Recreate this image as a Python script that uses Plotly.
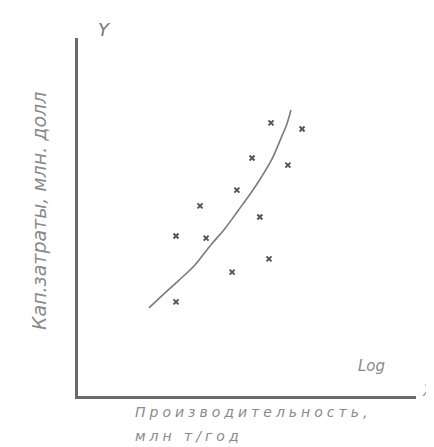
import plotly.graph_objects as go

# scattered observations (arbitrary units, 0-100 on both axes)
obs_x = [57.1, 66.3, 51.5, 62.1, 47.0, 36.1, 53.8, 29.0, 37.9, 56.5, 45.6, 29.0]
obs_y = [76.3, 74.6, 66.5, 64.5, 57.5, 53.1, 50.0, 44.7, 44.1, 38.3, 34.6, 26.3]

# hand-drawn trend curve
curve_x = [21.0, 25.5, 29.6, 34.6, 39.3, 43.5, 47.3, 51.0, 54.1, 57.3, 60.1, 61.8, 63.0]
curve_y = [24.6, 28.6, 32.1, 36.6, 42.2, 46.8, 51.7, 56.5, 60.9, 66.0, 72.1, 76.0, 79.9]

y_title = "Кап.затраты, млн. долл"
x_title_1 = "Производительность,"
x_title_2 = "млн т/год"

W, H = 434, 447
# plot region in pixels (left, right, top, bottom)
X0, X1, Y0, Y1 = 70, 408, 30, 388

def px(xp):
    return xp / W

def py(yp):
    return (H - yp) / H

ink = "#6a6a6a"
txt = "#8a8a8a"
fam = "DejaVu Sans"

fig = go.Figure()
fig.add_trace(go.Scatter(x=curve_x, y=curve_y, mode="lines",
                         line=dict(color="#7a7a7a", width=1.6, shape="spline"),
                         hoverinfo="skip"))
fig.add_trace(go.Scatter(x=obs_x, y=obs_y, mode="markers",
                         marker=dict(symbol="x-thin", size=5,
                                     line=dict(color="#555555", width=2)),
                         hoverinfo="skip"))

def ann(text, x, y, size, xanchor="left", angle=0, color=txt):
    fig.add_annotation(text=text, xref="paper", yref="paper", x=x, y=y,
                       xanchor=xanchor, yanchor="middle", showarrow=False,
                       textangle=angle,
                       font=dict(family=fam, size=size, color=color))

sp = '<i><span style="letter-spacing:4px">%s</span></i>'
ann("<i>Y</i>", px(96), py(22), 18, xanchor="center", color="#777777")
ann("<i>X</i>", px(420), py(383), 15, xanchor="center", color="#999999")
ann("<i>Log</i>", px(363), py(358), 15, xanchor="center", color="#888888")
ann(sp % x_title_1, px(125), py(404), 14)
ann(sp % x_title_2, px(125), py(428), 14)
ann("<i>" + y_title + "</i>", px(31), py(203), 19, xanchor="center", angle=-90)

fig.update_layout(
    width=W, height=H,
    margin=dict(l=0, r=0, t=0, b=0, autoexpand=False),
    paper_bgcolor="white", plot_bgcolor="white",
    showlegend=False,
    xaxis=dict(domain=[X0 / W, X1 / W], range=[0, 100], showgrid=False, zeroline=False,
               showticklabels=False, ticks="", showline=True, linecolor=ink,
               linewidth=2.5, fixedrange=True),
    yaxis=dict(domain=[(H - Y1) / H, (H - Y0) / H], range=[0, 100], showgrid=False,
               zeroline=False, showticklabels=False, ticks="", showline=True,
               linecolor=ink, linewidth=2.5, fixedrange=True),
)

fig.write_html("out.html")
